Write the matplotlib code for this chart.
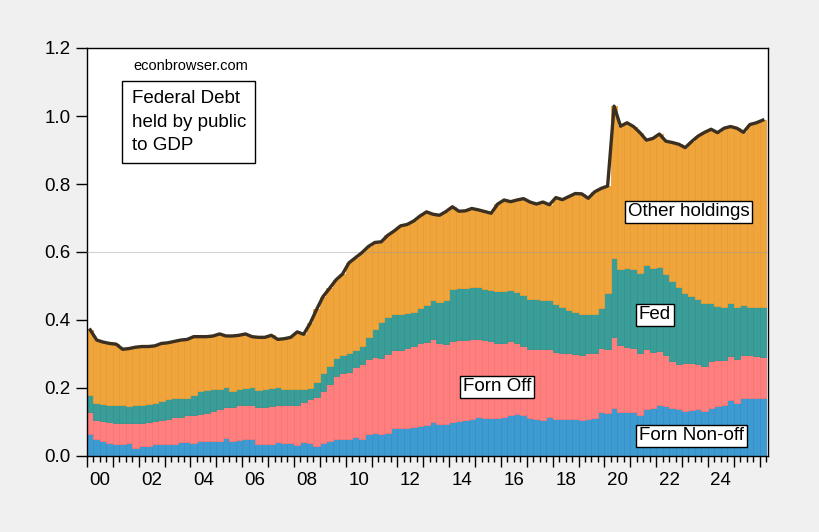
import numpy as np
import pandas as pd
import matplotlib
matplotlib.use('Agg')
import matplotlib.pyplot as plt

plt.rcParams['font.family'] = ['Liberation Sans', 'DejaVu Sans']

# quarterly observations, 2000Q1 onward
quarters = pd.period_range('2000Q1', periods=105, freq='Q')

# stacked levels (share of GDP)
forn_nonoff = [
    0.065, 0.049, 0.044, 0.037, 0.035, 0.036, 0.037, 0.025, 0.030, 0.030,
    0.035, 0.035, 0.035, 0.035, 0.041, 0.041, 0.037, 0.043, 0.043, 0.043,
    0.045, 0.053, 0.043, 0.047, 0.049, 0.049, 0.034, 0.034, 0.036, 0.041,
    0.039, 0.037, 0.031, 0.041, 0.037, 0.030, 0.037, 0.043, 0.049, 0.049,
    0.049, 0.055, 0.049, 0.065, 0.067, 0.065, 0.067, 0.083, 0.083, 0.083,
    0.086, 0.088, 0.090, 0.101, 0.094, 0.094, 0.101, 0.104, 0.106, 0.108,
    0.114, 0.111, 0.111, 0.111, 0.114, 0.122, 0.125, 0.122, 0.111, 0.109,
    0.106, 0.114, 0.108, 0.108, 0.108, 0.108, 0.105, 0.108, 0.111, 0.130,
    0.126, 0.140, 0.130, 0.130, 0.130, 0.121, 0.137, 0.140, 0.150, 0.147,
    0.140, 0.137, 0.132, 0.135, 0.137, 0.132, 0.142, 0.147, 0.150, 0.166,
    0.155, 0.170, 0.170, 0.170, 0.170]

# top of the "Forn Off" segment
forn_off_top = [
    0.130, 0.106, 0.104, 0.101, 0.098, 0.097, 0.096, 0.096, 0.098, 0.100,
    0.102, 0.106, 0.108, 0.114, 0.116, 0.120, 0.122, 0.124, 0.126, 0.133,
    0.139, 0.143, 0.143, 0.149, 0.151, 0.151, 0.143, 0.145, 0.147, 0.149,
    0.151, 0.151, 0.151, 0.159, 0.167, 0.174, 0.192, 0.212, 0.235, 0.243,
    0.247, 0.261, 0.271, 0.284, 0.290, 0.288, 0.300, 0.312, 0.312, 0.318,
    0.325, 0.333, 0.335, 0.343, 0.333, 0.329, 0.339, 0.340, 0.341, 0.343,
    0.343, 0.341, 0.337, 0.333, 0.333, 0.339, 0.333, 0.324, 0.314, 0.316,
    0.316, 0.314, 0.306, 0.303, 0.302, 0.300, 0.297, 0.302, 0.304, 0.319,
    0.314, 0.351, 0.326, 0.322, 0.317, 0.304, 0.314, 0.307, 0.310, 0.297,
    0.278, 0.271, 0.273, 0.273, 0.271, 0.265, 0.278, 0.281, 0.282, 0.294,
    0.284, 0.297, 0.296, 0.294, 0.292]

# top of the "Fed" segment
fed_top = [
    0.179, 0.155, 0.153, 0.150, 0.149, 0.149, 0.147, 0.150, 0.151, 0.153,
    0.156, 0.162, 0.167, 0.170, 0.172, 0.172, 0.178, 0.190, 0.194, 0.196,
    0.198, 0.202, 0.192, 0.198, 0.200, 0.202, 0.194, 0.196, 0.200, 0.202,
    0.198, 0.196, 0.196, 0.196, 0.200, 0.218, 0.243, 0.265, 0.289, 0.296,
    0.302, 0.312, 0.324, 0.349, 0.375, 0.394, 0.408, 0.417, 0.417, 0.420,
    0.425, 0.435, 0.444, 0.459, 0.454, 0.459, 0.490, 0.493, 0.493, 0.496,
    0.496, 0.490, 0.488, 0.484, 0.484, 0.488, 0.483, 0.473, 0.461, 0.461,
    0.459, 0.459, 0.447, 0.437, 0.430, 0.425, 0.417, 0.417, 0.417, 0.436,
    0.478, 0.581, 0.549, 0.552, 0.549, 0.539, 0.562, 0.552, 0.555, 0.535,
    0.515, 0.496, 0.478, 0.471, 0.461, 0.449, 0.449, 0.441, 0.439, 0.449,
    0.437, 0.444, 0.437, 0.437, 0.437]

# federal debt held by public to GDP (the line, also the top of the stack)
debt_gdp = [
    0.371, 0.341, 0.335, 0.331, 0.329, 0.314, 0.316, 0.320, 0.322, 0.322,
    0.324, 0.331, 0.333, 0.337, 0.341, 0.343, 0.351, 0.351, 0.351, 0.353,
    0.359, 0.353, 0.353, 0.355, 0.359, 0.351, 0.349, 0.349, 0.355, 0.343,
    0.345, 0.349, 0.365, 0.358, 0.390, 0.431, 0.469, 0.493, 0.518, 0.535,
    0.568, 0.583, 0.598, 0.616, 0.628, 0.630, 0.649, 0.662, 0.677, 0.681,
    0.691, 0.706, 0.718, 0.711, 0.708, 0.719, 0.733, 0.720, 0.721, 0.728,
    0.724, 0.719, 0.714, 0.741, 0.753, 0.748, 0.753, 0.757, 0.747, 0.741,
    0.747, 0.739, 0.760, 0.754, 0.763, 0.772, 0.771, 0.758, 0.777, 0.787,
    0.794, 1.029, 0.970, 0.980, 0.969, 0.951, 0.929, 0.934, 0.947, 0.926,
    0.922, 0.917, 0.907, 0.925, 0.941, 0.952, 0.961, 0.951, 0.964, 0.969,
    0.964, 0.952, 0.975, 0.980, 0.988]

year_labels = ['00', '02', '04', '06', '08', '10', '12',
               '14', '16', '18', '20', '22', '24']

levels = [np.zeros(len(quarters)), np.array(forn_nonoff), np.array(forn_off_top),
          np.array(fed_top), np.array(debt_gdp)]
fills = ['#3d9bd1', '#ff7e7e', '#3a9d98', '#f0a53c']
edges = ['#3490c6', '#f57676', '#33948f', '#e99d32']

fig = plt.figure(figsize=(8.2, 5.32), dpi=100, facecolor='#f0f0f0')
ax = fig.add_axes([87 / 820, 76 / 532, 681 / 820, 408 / 532])
ax.set_facecolor('white')

x = np.arange(len(quarters)) + 0.5
for i in range(4):
    ax.bar(x, levels[i + 1] - levels[i], bottom=levels[i], width=1.0,
           color=fills[i], edgecolor=edges[i], linewidth=0.6, zorder=2)

ax.axhline(0.6, color='#999999', lw=0.8, alpha=0.45, zorder=3)
ax.plot(x, debt_gdp, color='#3a2f20', lw=2.4, zorder=4, solid_joinstyle='round')

ax.set_xlim(0, 105.3)
ax.set_ylim(0, 1.2)
ax.set_yticks(np.arange(0, 1.21, 0.2))
ax.set_yticklabels(['%.1f' % v for v in np.arange(0, 1.21, 0.2)])
ax.set_xticks(np.arange(0, 106, 4))
ax.set_xticklabels([])
ax.set_xticks(np.arange(0, 106, 1), minor=True)
ax.tick_params(axis='y', length=8, width=1, pad=4, labelsize=13.5)
ax.tick_params(axis='x', which='major', length=8, width=1)
ax.tick_params(axis='x', which='minor', length=4, width=1)
for s in ax.spines.values():
    s.set_linewidth(1)

trans = ax.get_xaxis_transform()
for j, lab in enumerate(year_labels):
    ax.text(j * 8 + 2, -0.061, lab, transform=trans, ha='center', va='center',
            fontsize=13.5)

# annotations
ax.text(16.1, 1.147, 'econbrowser.com', ha='center', va='center', fontsize=10.5)
ax.text(6.9, 0.982, 'Federal Debt\nheld by public\nto GDP', ha='left', va='center',
        fontsize=13.5, linespacing=1.5, zorder=5,
        bbox=dict(boxstyle='square,pad=0.5', fc='white', ec='black', lw=1))

box = dict(boxstyle='square,pad=0.15', fc='white', ec='black', lw=1)
ax.text(93.0, 0.718, 'Other holdings', ha='center', va='center', fontsize=13.5,
        bbox=box, zorder=5)
ax.text(87.8, 0.415, 'Fed', ha='center', va='center', fontsize=13.5,
        bbox=box, zorder=5)
ax.text(63.4, 0.203, 'Forn Off', ha='center', va='center', fontsize=13.5,
        bbox=box, zorder=5)
ax.text(93.5, 0.059, 'Forn Non-off', ha='center', va='center', fontsize=13.5,
        bbox=box, zorder=5)

fig.savefig('out.png', dpi=100, facecolor=fig.get_facecolor())
plt.close(fig)
